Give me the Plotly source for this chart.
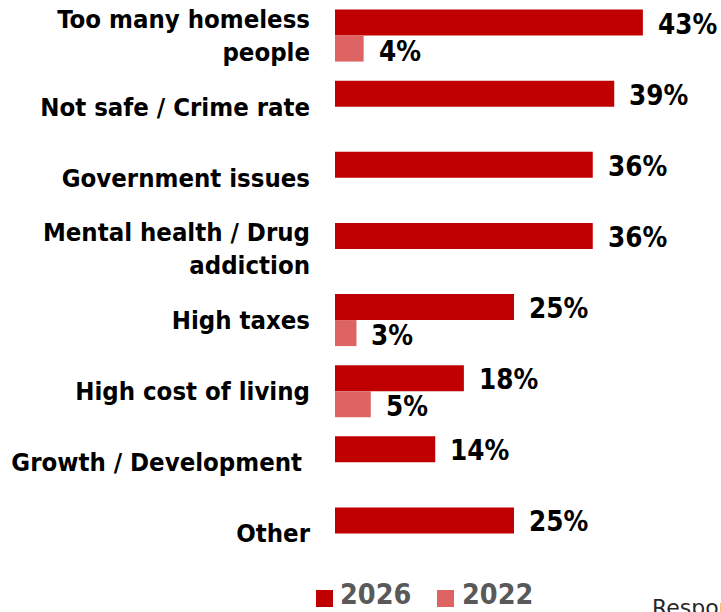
import plotly.graph_objects as go

# Reasons for leaving, share of respondents (%)
categories = [
    "Too many homeless<br>people",
    "Not safe / Crime rate",
    "Government issues",
    "Mental health / Drug<br>addiction",
    "High taxes",
    "High cost of living",
    "Growth / Development\u00a0",
    "Other",
]
values_2026 = [43, 39, 36, 36, 25, 18, 14, 25]
values_2022 = [4, None, None, None, 3, 5, None, None]
series_names = ["2026", "2022"]
series_colors = ["#C00000", "#DE6464"]

W, H = 721, 612
M_L, M_R, M_T, M_B = 335, 28, 0, 43
X_MAX = 50
FONT = "DejaVu Sans Condensed, DejaVu Sans, sans-serif"

fig = go.Figure()
for name, vals, color in zip(series_names, [values_2026, values_2022], series_colors):
    fig.add_trace(go.Bar(
        y=categories,
        x=vals,
        name=name,
        orientation="h",
        marker=dict(color=color, line=dict(width=0)),
        showlegend=False,
        hoverinfo="skip",
    ))

# Value labels next to the bar ends
annotations = []
for vals, shift in [(values_2026, 12), (values_2022, -15)]:
    for cat, v in zip(categories, vals):
        if v is None:
            continue
        annotations.append(dict(
            x=v, y=cat, xref="x", yref="y",
            text=f"{v}%", showarrow=False,
            xanchor="left", yanchor="middle",
            xshift=13, yshift=shift,
            font=dict(family=FONT, size=27.5, color="#000000", weight=700),
        ))

plot_w = W - M_L - M_R
plot_h = H - M_T - M_B


def px_x(p):
    return (p - M_L) / plot_w


def px_y(p):
    return (H - M_B - p) / plot_h


# Legend drawn as colour swatches with labels below the plot
shapes = []
legend_items = [(316, 340), (437, 462)]
for (sx, tx), name, color in zip(legend_items, series_names, series_colors):
    shapes.append(dict(
        type="rect", xref="paper", yref="paper",
        x0=px_x(sx), x1=px_x(sx + 17), y0=px_y(607), y1=px_y(590),
        fillcolor=color, line=dict(width=0),
    ))
    annotations.append(dict(
        x=px_x(tx - 2), y=px_y(595), xref="paper", yref="paper",
        text=name, showarrow=False, xanchor="left", yanchor="middle",
        font=dict(family=FONT, size=28.5, color="#595959", weight=700),
    ))

annotations.append(dict(
    x=px_x(650), y=px_y(593), xref="paper", yref="paper",
    text="Responses", showarrow=False, xanchor="left", yanchor="top",
    font=dict(family="DejaVu Sans, sans-serif", size=22, color="#262626"),
))

fig.update_layout(
    width=W, height=H,
    margin=dict(l=M_L, r=M_R, t=M_T, b=M_B, pad=0),
    paper_bgcolor="white", plot_bgcolor="white",
    barmode="group", bargap=0.268, bargroupgap=0,
    xaxis=dict(range=[0, X_MAX], visible=False, fixedrange=True),
    yaxis=dict(
        autorange="reversed", showgrid=False, zeroline=False, showline=False,
        ticks="", ticklabelstandoff=24,
        tickfont=dict(family=FONT, size=25.5, color="#000000", weight=700),
        fixedrange=True,
    ),
    shapes=shapes,
    annotations=annotations,
)

fig.write_html("out.html")
